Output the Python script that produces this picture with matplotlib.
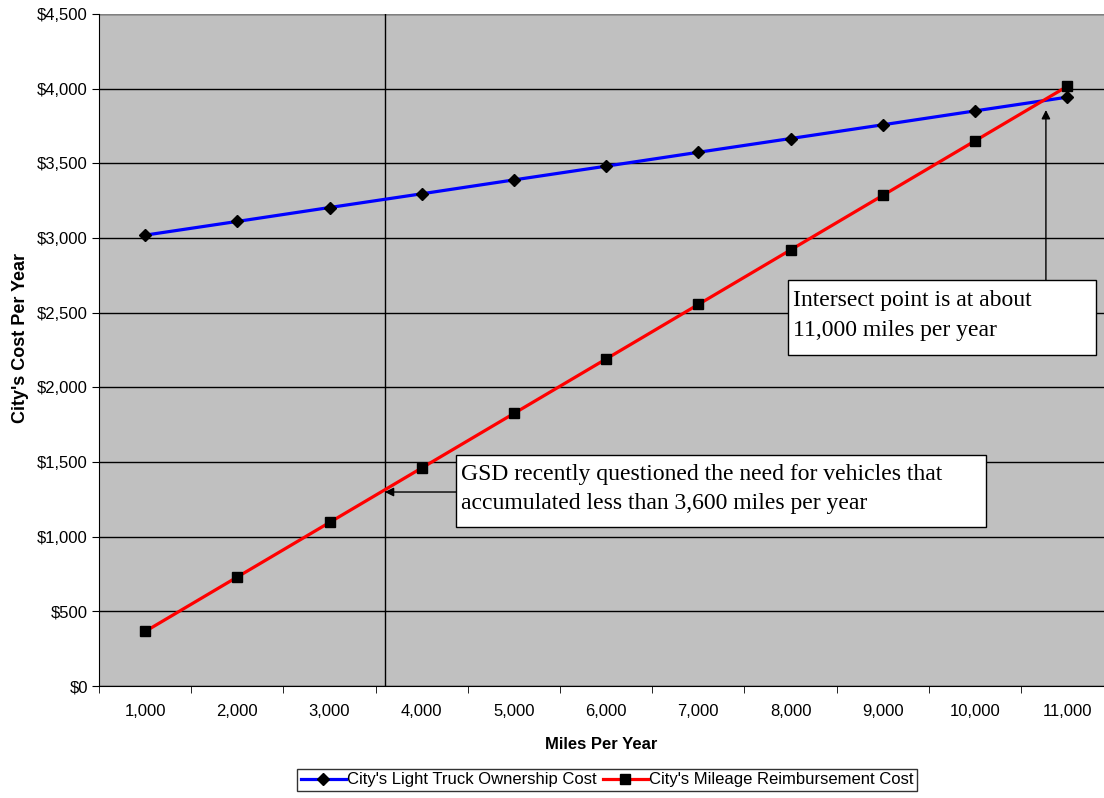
import matplotlib
matplotlib.use("Agg")
import matplotlib.pyplot as plt
from matplotlib.patches import Rectangle
from matplotlib.ticker import FuncFormatter, MultipleLocator, FixedLocator

plt.rcParams["font.family"] = ["Liberation Sans", "DejaVu Sans"]

miles = [1000, 2000, 3000, 4000, 5000, 6000, 7000, 8000, 9000, 10000, 11000]
ownership = [3019, 3111, 3204, 3296, 3389, 3481, 3574, 3666, 3758, 3851, 3943]
reimburse = [365, 730, 1095, 1460, 1825, 2190, 2555, 2920, 3285, 3650, 4015]
cutoff_miles = 3600

W, H = 1104, 798
fig = plt.figure(figsize=(W / 100, H / 100), dpi=100)
ax = fig.add_axes([99 / W, 1 - 686 / H, 1 - 99 / W, (686 - 14) / H])
ax.set_facecolor("#c0c0c0")

pos = list(range(len(miles)))
ax.plot(pos, ownership, color="#0000ff", lw=2.3, marker="D", ms=6,
        mfc="black", mec="black", label="City's Light Truck Ownership Cost", zorder=4)
ax.plot(pos, reimburse, color="#ff0000", lw=2.3, marker="s", ms=7.5,
        mfc="black", mec="black", label="City's Mileage Reimbursement Cost", zorder=4)

ax.set_xlim(-0.5, 10.4)
ax.set_ylim(0, 4500)
ax.yaxis.set_major_locator(MultipleLocator(500))
ax.yaxis.set_major_formatter(FuncFormatter(lambda v, p: "${:,.0f}".format(v)))
ax.grid(axis="y", color="black", lw=1, zorder=1)
ax.set_xticks(pos)
ax.set_xticklabels(["{:,}".format(m) for m in miles])
ax.xaxis.set_minor_locator(FixedLocator([p - 0.5 for p in pos] + [10.5]))
ax.tick_params(axis="x", which="major", length=0, pad=13, labelsize=12)
ax.tick_params(axis="x", which="minor", length=5, direction="out", color="black")
ax.tick_params(axis="y", length=5, direction="out", labelsize=12, pad=3)
for s in ["top", "right"]:
    ax.spines[s].set_visible(False)
ax.spines["left"].set_color("black")
ax.spines["bottom"].set_color("black")
ax.axhline(4500, color="#808080", lw=1.5, zorder=2)

ax.set_xlabel("Miles Per Year", fontweight="bold", fontsize=12, labelpad=13)
ax.set_ylabel("City's Cost Per Year", fontweight="bold", fontsize=13)
ax.yaxis.set_label_coords(-0.0696, 0.518)

# vertical marker at the 3,600 mile threshold
cut_x = (cutoff_miles - miles[0]) / 1000
ax.axvline(cut_x, color="black", lw=1, zorder=3)

def px(x, y):
    return x / W, 1 - y / H

def note_box(x0, y0, x1, y1, text):
    fig.add_artist(Rectangle(px(x0, y1), (x1 - x0) / W, (y1 - y0) / H,
                             transform=fig.transFigure, facecolor="white",
                             edgecolor="black", lw=1, zorder=10))
    tx, ty = px(x0 + 5, (y0 + y1) / 2 - 2)
    fig.text(tx, ty, text, family="Liberation Serif", fontsize=17,
             va="center", ha="left", linespacing=1.55, zorder=11)

note_box(456, 455, 986, 527,
         "GSD recently questioned the need for vehicles that\n"
         "accumulated less than 3,600 miles per year")
note_box(788, 280, 1096, 355,
         "Intersect point is at about\n11,000 miles per year")

ax.annotate("", xy=(cut_x, 1299), xytext=(3.37, 1299),
            arrowprops=dict(arrowstyle="-|>", color="black", lw=1,
                            mutation_scale=13, shrinkA=0, shrinkB=0), zorder=5)
ax.annotate("", xy=(9.77, 3857), xytext=(9.77, 2719),
            arrowprops=dict(arrowstyle="-|>", color="black", lw=1,
                            mutation_scale=13, shrinkA=0, shrinkB=0), zorder=5)

leg = fig.legend(loc="upper center", bbox_to_anchor=(607 / W, 1 - 769 / H),
                 ncol=2, frameon=True, fancybox=False, edgecolor="black",
                 fontsize=12, handlelength=2.7, handletextpad=0.05,
                 columnspacing=0.4, borderpad=0.2, borderaxespad=0)
leg.get_frame().set_linewidth(1)

fig.savefig("out.png", dpi=100)
